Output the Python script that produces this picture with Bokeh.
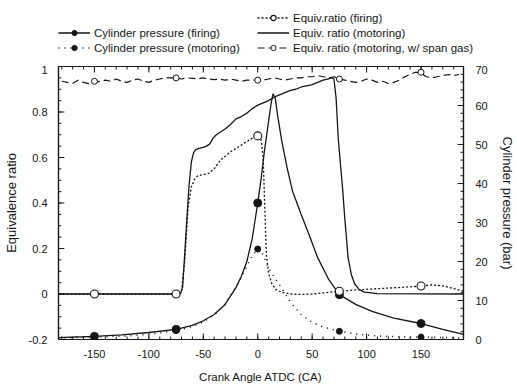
from bokeh.plotting import figure
from bokeh.layouts import column
from bokeh.models import Range1d, LinearAxis, FixedTicker, Legend, LegendItem
from bokeh.embed import file_html
from bokeh.resources import INLINE

# ---------------- data ----------------
# Cylinder pressure (firing), bar
ca_pf = [-183, -160, -150, -125, -100, -75, -60, -50, -40, -30, -20, -15, -10, -5, 0, 3, 6, 9, 12, 14,
         16, 18, 22, 27, 32, 40, 47, 55, 65, 75, 90, 105, 125, 150, 170, 189]
p_fire = [0.5, 0.7, 0.8, 1.2, 1.8, 2.6, 3.6, 4.8, 6.4, 9.0, 13.3, 16.2, 20.0, 26.0, 35.0, 41.0, 48.0, 54.0, 60.0, 63.0,
          62.0, 58.0, 51.0, 44.0, 38.0, 32.0, 27.0, 21.0, 15.5, 11.5, 9.0, 7.2, 5.5, 4.1, 2.6, 1.3]

# Cylinder pressure (motoring), bar
ca_pm = [-183, -150, -120, -100, -75, -60, -50, -40, -30, -20, -15, -10, -5, 0, 3, 6, 10, 15, 20, 25,
         30, 40, 50, 60, 75, 90, 110, 130, 150, 170, 189]
p_mot = [0.4, 0.6, 0.9, 1.3, 2.3, 3.3, 4.5, 6.3, 9.0, 13.5, 16.0, 18.8, 21.5, 23.2, 22.8, 21.0, 18.3, 16.0, 14.0, 11.8,
         9.6, 6.4, 4.4, 3.2, 2.1, 1.4, 0.9, 0.7, 0.6, 0.5, 0.4]

# Equiv. ratio (firing)
ca_ef = [-183, -150, -100, -75, -70, -67, -64, -61, -58, -55, -50, -45, -40, -34, -30, -25, -20, -15, -10, -5,
         0, 3, 5, 6, 7, 8, 10, 13, 17, 22, 30, 40, 50, 60, 75, 90, 105, 120, 135, 150, 160, 170, 180, 189]
eq_ef = [0.0, 0.0, 0.0, 0.0, 0.01, 0.15, 0.38, 0.47, 0.505, 0.52, 0.525, 0.53, 0.55, 0.59, 0.605, 0.625, 0.64, 0.655, 0.67, 0.685,
         0.695, 0.68, 0.60, 0.45, 0.30, 0.17, 0.09, 0.045, 0.018, 0.008, 0.0, -0.002, 0.0, 0.005, 0.012, 0.018, 0.022, 0.026, 0.03, 0.035,
         0.04, 0.036, 0.024, 0.012]

# Equiv. ratio (motoring)
ca_em = [-183, -100, -71, -69, -67, -65, -63, -61, -59, -57, -54, -50, -47, -44, -41, -38, -35, -30, -25, -20,
         -15, -10, -5, 0, 5, 10, 15, 20, 25, 30, 35, 40, 45, 50, 55, 60, 64, 68, 70, 72,
         74, 76, 78, 80, 83, 86, 89, 93, 98, 110, 189]
eq_em = [0.0, 0.0, 0.0, 0.03, 0.18, 0.34, 0.48, 0.58, 0.62, 0.635, 0.64, 0.645, 0.65, 0.66, 0.685, 0.70, 0.71, 0.725, 0.745, 0.77,
         0.78, 0.795, 0.815, 0.83, 0.84, 0.85, 0.865, 0.875, 0.885, 0.895, 0.90, 0.91, 0.915, 0.92, 0.93, 0.94, 0.945, 0.95, 0.945, 0.86,
         0.68, 0.57, 0.46, 0.33, 0.16, 0.085, 0.045, 0.02, 0.008, 0.002, 0.0]

# Equiv. ratio (motoring, w/ span gas)
ca_sg = list(range(-180, 186, 5))
eq_sg = [0.935, 0.93, 0.925, 0.94, 0.93, 0.925, 0.93, 0.935, 0.94, 0.935,
         0.945, 0.935, 0.93, 0.94, 0.945, 0.935, 0.93, 0.94, 0.945, 0.95,
         0.95, 0.95, 0.945, 0.95, 0.948, 0.945, 0.95, 0.945, 0.942, 0.945,
         0.94, 0.945, 0.94, 0.935, 0.94, 0.94, 0.94, 0.94, 0.945, 0.95,
         0.945, 0.94, 0.945, 0.95, 0.95, 0.955, 0.955, 0.96, 0.955, 0.95,
         0.955, 0.945, 0.94, 0.935, 0.93, 0.935, 0.945, 0.94, 0.93, 0.935,
         0.925, 0.93, 0.94, 0.955, 0.965, 0.975, 0.97, 0.955, 0.95, 0.955,
         0.96, 0.965, 0.96, 0.965]

# marker positions (crank angle) and values
ca_mk = [-150, -75, 0, 75, 150]
pf_mk = [0.8, 2.6, 35.0, 11.5, 4.1]
pm_mk = [0.6, 2.3, 23.2, 2.1, 0.6]
ef_mk = [0.0, 0.0, 0.695, 0.012, 0.035]
sg_mk = [0.935, 0.95, 0.94, 0.945, 0.975]

# axis ranges and ticks
x_lo, x_hi = -183, 189
y_lo, y_hi = -0.2, 1.0
p_lo, p_hi = 0, 70
x_ticks = [-150, -100, -50, 0, 50, 100, 150]
x_labels = ["-150", "-100", "-50", "0", "50", "100", "150"]
x_minor = list(range(-180, 190, 10))
y_ticks = [-0.2, 0.0, 0.2, 0.4, 0.6, 0.8, 1.0]
y_labels = ["-0.2", "0", "0.2", "0.4", "0.6", "0.8", "1"]
y_minor = [round(-0.2 + 0.05 * i, 2) for i in range(25)]
p_ticks = [0, 10, 20, 30, 40, 50, 60, 70]
p_labels = ["0", "10", "20", "30", "40", "50", "60", "70"]
p_minor = list(range(0, 71, 2))

# ---------------- styles ----------------
FONT = "Liberation Sans"
INK = "#151515"
S_PF = dict(line_color=INK, line_width=1.3)
M_PF = dict(marker="circle", size=8, fill_color=INK, line_color=INK)
S_PM = dict(line_color=INK, line_width=1.6, line_dash="1 5")
M_PM = dict(marker="circle", size=6, fill_color=INK, line_color=INK)
S_EM = dict(line_color=INK, line_width=1.3)
S_EF = dict(line_color=INK, line_width=1.3, line_dash="2 2")
M_EF = dict(marker="circle", size=8, fill_color="white", line_color=INK, line_width=1.1)
S_SG = dict(line_color=INK, line_width=1.2, line_dash="7 4")
M_SG = dict(marker="circle", size=6, fill_color="white", line_color=INK, line_width=1.0)

# ---------------- main figure ----------------
STRIP_H = 65
MAIN_H = 386 - STRIP_H
B_LEFT, B_RIGHT, B_BOTTOM = 57, 47, 47
FRAME_W = 517 - B_LEFT - B_RIGHT
FRAME_H = 272

p = figure(width=517, height=MAIN_H, output_backend="svg", toolbar_location=None,
           x_range=Range1d(x_lo, x_hi), y_range=Range1d(y_lo, y_hi),
           min_border_left=B_LEFT, min_border_right=B_RIGHT, min_border_top=1, min_border_bottom=B_BOTTOM)
p.frame_align = False
p.extra_y_ranges = {"p": Range1d(p_lo, p_hi)}
p.xgrid.visible = False
p.ygrid.visible = False
p.outline_line_color = INK
p.outline_line_width = 1.2
p.background_fill_color = "white"
p.border_fill_color = "white"


def style_axis(ax, ticks, labels, standoff):
    ax.ticker = FixedTicker(ticks=ticks)
    ax.major_label_overrides = {t: l for t, l in zip(ticks, labels)}
    ax.major_tick_line_color = None
    ax.minor_tick_line_color = None
    ax.major_tick_out = 0
    ax.minor_tick_out = 0
    ax.axis_line_color = INK
    ax.axis_line_width = 1.2
    ax.major_label_text_font = FONT
    ax.major_label_text_font_size = "11px"
    ax.major_label_text_color = INK
    ax.major_label_standoff = standoff
    ax.axis_label_text_font = FONT
    ax.axis_label_text_font_size = "11.5px"
    ax.axis_label_text_font_style = "normal"
    ax.axis_label_text_color = INK


xa = p.xaxis[0]
style_axis(xa, x_ticks, x_labels, 10)
xa.axis_label = "Crank Angle ATDC (CA)"
xa.axis_label_standoff = 10

ya = p.yaxis[0]
style_axis(ya, y_ticks, y_labels, 11)
ya.axis_label = "Equivalence ratio"
ya.axis_label_text_font_size = "13px"
ya.axis_label_standoff = 7

ra = LinearAxis(y_range_name="p")
style_axis(ra, p_ticks, p_labels, 12)
ra.axis_label = "Cylinder pressure (bar)"
ra.axis_label_text_font_size = "13px"
ra.axis_label_standoff = 9
p.add_layout(ra, "right")

# inward tick marks on all four frame edges (lengths given in px, converted to data units)
def dx(px):
    return px * (x_hi - x_lo) / FRAME_W


def dy(px, lo, hi):
    return px * (hi - lo) / FRAME_H


TICK = dict(line_color=INK, line_width=1)
for xs, ln in ((x_ticks, 6), (x_minor, 3)):
    n = len(xs)
    p.segment(x0=xs, y0=[y_lo] * n, x1=xs, y1=[y_lo + dy(ln, y_lo, y_hi)] * n, **TICK)
    p.segment(x0=xs, y0=[y_hi] * n, x1=xs, y1=[y_hi - dy(ln, y_lo, y_hi)] * n, **TICK)
for ys, ln in ((y_ticks, 6), (y_minor, 3)):
    n = len(ys)
    p.segment(x0=[x_lo] * n, y0=ys, x1=[x_lo + dx(ln)] * n, y1=ys, **TICK)
for ps, ln in ((p_ticks, 6), (p_minor, 3)):
    n = len(ps)
    p.segment(x0=[x_hi] * n, y0=ps, x1=[x_hi - dx(ln)] * n, y1=ps, y_range_name="p", **TICK)

# series
p.line(ca_pf, p_fire, y_range_name="p", **S_PF)
p.scatter(ca_mk, pf_mk, y_range_name="p", **M_PF)
p.line(ca_pm, p_mot, y_range_name="p", **S_PM)
p.scatter(ca_mk, pm_mk, y_range_name="p", **M_PM)
p.line(ca_em, eq_em, **S_EM)
p.line(ca_ef, eq_ef, **S_EF)
p.scatter(ca_mk, ef_mk, **M_EF)
p.line(ca_sg, eq_sg, **S_SG)
p.scatter(ca_mk, sg_mk, **M_SG)

# ---------------- legend strip (above the chart) ----------------
# The strip's view window lies outside all data, so only its legend shows.
lg = figure(width=517, height=STRIP_H, output_backend="svg", toolbar_location=None,
            x_range=Range1d(1000, 1001), y_range=Range1d(1000, 1001),
            x_axis_type=None, y_axis_type=None, min_border=0)
lg.frame_align = False
lg.xgrid.visible = False
lg.ygrid.visible = False
lg.outline_line_color = None
lg.background_fill_color = "white"
lg.border_fill_color = "white"

k_pf = lg.line(ca_pf, p_fire, **S_PF)
km_pf = lg.scatter(ca_mk, pf_mk, **M_PF)
k_pm = lg.line(ca_pm, p_mot, **S_PM)
km_pm = lg.scatter(ca_mk, pm_mk, **M_PM)
k_ef = lg.line(ca_ef, eq_ef, **S_EF)
km_ef = lg.scatter(ca_mk, ef_mk, **M_EF)
k_em = lg.line(ca_em, eq_em, **S_EM)
k_sg = lg.line(ca_sg, eq_sg, **S_SG)
km_sg = lg.scatter(ca_mk, sg_mk, **M_SG)


def make_legend(items, loc):
    leg = Legend(items=items, location=loc)
    leg.label_text_font = FONT
    leg.label_text_font_size = "11.5px"
    leg.label_text_color = INK
    leg.glyph_width = 32
    leg.glyph_height = 13
    leg.label_height = 13
    leg.label_standoff = 4
    leg.spacing = 2
    leg.padding = 0
    leg.margin = 0
    leg.border_line_color = None
    leg.background_fill_alpha = 0
    return leg


# location = bottom-left corner, px from the strip's bottom-left
LEG_BOTTOM = STRIP_H - 54
lg.add_layout(make_legend([
    LegendItem(label="Cylinder pressure (firing)", renderers=[k_pf, km_pf]),
    LegendItem(label="Cylinder pressure (motoring)", renderers=[k_pm, km_pm]),
], (58, LEG_BOTTOM)))
lg.add_layout(make_legend([
    LegendItem(label="Equiv.ratio (firing)", renderers=[k_ef, km_ef]),
    LegendItem(label="Equiv. ratio (motoring)", renderers=[k_em]),
    LegendItem(label="Equiv. ratio (motoring, w/ span gas)", renderers=[k_sg, km_sg]),
], (257, LEG_BOTTOM)))

layout = column(lg, p, spacing=0)
open("out.html", "w").write(file_html(layout, INLINE))
